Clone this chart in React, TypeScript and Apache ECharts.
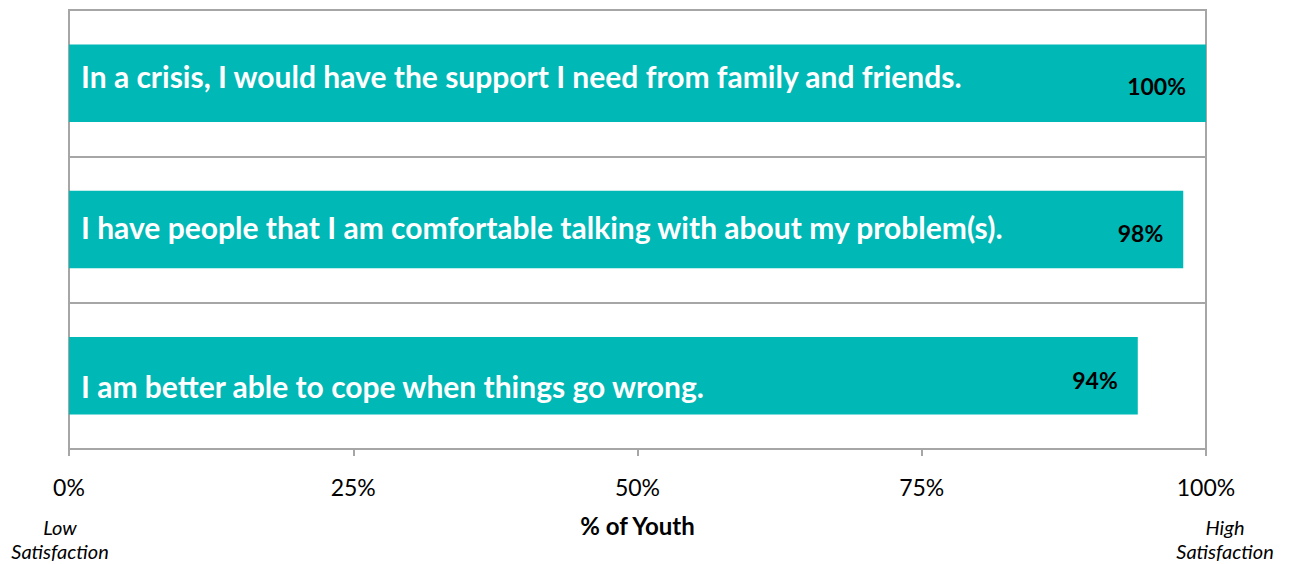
import React, { useEffect, useRef } from "react";
import * as echarts from "echarts";

const categories = [
  "In a crisis, I would have the support I need from family and friends.",
  "I have people that I am comfortable talking with about my problem(s).",
  "I am better able to cope when things go wrong.",
];
const values = [100, 98, 94];
const xTicks = [0, 25, 50, 75, 100];
const axisTitle = "% of Youth";
const lowLabel = "Low\nSatisfaction";
const highLabel = "High\nSatisfaction";

const nameOffsets = [-7, -3, 10];
const valueOffsets = [3, 3, 4];

const BAR = "#00b8b5";
const GRID = "#a6a6a6";
const FONT = "Lato, Carlito, Calibri, sans-serif";

export default function App() {
  const ref = useRef<HTMLDivElement>(null);
  useEffect(() => {
    document.body.style.margin = "0";
    const chart = echarts.init(ref.current!, null, { renderer: "svg" });
    chart.setOption({
      animation: false,
      textStyle: { fontFamily: FONT },
      grid: {
        left: 69,
        right: 85,
        top: 10,
        bottom: 115,
        show: true,
        borderColor: GRID,
        borderWidth: 2,
        containLabel: false,
      },
      xAxis: {
        type: "value",
        min: 0,
        max: 100,
        interval: 25,
        axisLine: { show: true, lineStyle: { color: GRID, width: 2 } },
        axisTick: { show: true, length: 7, lineStyle: { color: GRID, width: 2 } },
        splitLine: { show: false },
        axisLabel: {
          formatter: (v: number) => (xTicks.includes(v) ? v + "%" : ""),
          color: "#000",
          fontSize: 23,
          fontFamily: FONT,
          margin: 26,
        },
        name: axisTitle,
        nameLocation: "middle",
        nameGap: 64,
        nameTextStyle: { fontSize: 24, fontWeight: "bold", color: "#000", fontFamily: FONT },
      },
      yAxis: {
        type: "category",
        data: categories,
        inverse: true,
        axisLine: { show: true, lineStyle: { color: GRID, width: 2 } },
        axisTick: { show: false },
        axisLabel: { show: false },
        splitLine: { show: true, lineStyle: { color: GRID, width: 2 } },
      },
      series: [
        {
          type: "bar",
          barWidth: "53%",
          itemStyle: { color: BAR },
          data: values.map((v, i) => ({
            value: v,
            label: { offset: [0, nameOffsets[i]] },
          })),
          label: {
            show: true,
            position: "insideLeft",
            distance: 12,
            formatter: (p: any) => categories[p.dataIndex],
            color: "#fff",
            fontWeight: "bold",
            fontSize: 30,
            fontFamily: FONT,
          },
        },
        {
          type: "bar",
          barWidth: "53%",
          barGap: "-100%",
          itemStyle: { color: "transparent" },
          data: values.map((v, i) => ({
            value: v,
            label: { offset: [0, valueOffsets[i]] },
          })),
          label: {
            show: true,
            position: "insideRight",
            distance: 20,
            formatter: (p: any) => p.value + "%",
            color: "#000",
            fontWeight: "bold",
            fontSize: 23,
            fontFamily: FONT,
          },
          z: 3,
        },
      ],
      graphic: [
        {
          type: "text",
          x: 60,
          y: 515,
          style: {
            text: lowLabel,
            fill: "#000",
            font: `italic 20px ${FONT}`,
            textAlign: "center",
            textVerticalAlign: "top",
            lineHeight: 24,
          },
        },
        {
          type: "text",
          x: 1225,
          y: 515,
          style: {
            text: highLabel,
            fill: "#000",
            font: `italic 20px ${FONT}`,
            textAlign: "center",
            textVerticalAlign: "top",
            lineHeight: 24,
          },
        },
      ],
    });
    return () => chart.dispose();
  }, []);
  return (
    <div
      ref={ref}
      style={{ position: "absolute", left: 0, top: 0, width: 1291, height: 564 }}
    />
  );
}
